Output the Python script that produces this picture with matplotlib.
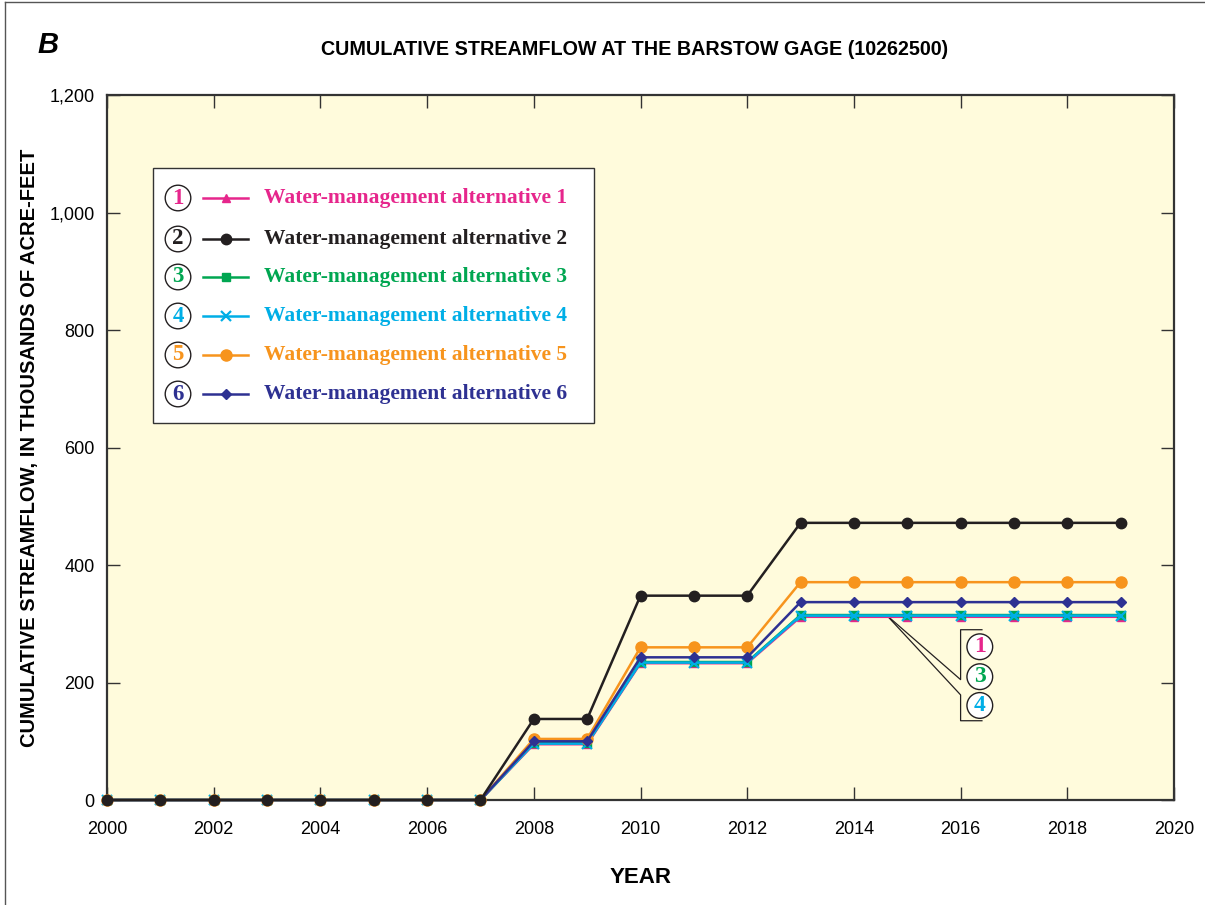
import numpy as np
import matplotlib
matplotlib.use("Agg")
import matplotlib.pyplot as plt
from matplotlib.lines import Line2D

# cumulative streamflow, thousands of acre-feet
years = list(range(2000, 2020))
alt1 = [0, 0, 0, 0, 0, 0, 0, 0, 95, 95, 233, 233, 233, 312, 312, 312, 312, 312, 312, 312]
alt2 = [0, 0, 0, 0, 0, 0, 0, 0, 138, 138, 348, 348, 348, 472, 472, 472, 472, 472, 472, 472]
alt3 = [0, 0, 0, 0, 0, 0, 0, 0, 97, 97, 235, 235, 235, 315, 315, 315, 315, 315, 315, 315]
alt4 = [0, 0, 0, 0, 0, 0, 0, 0, 96, 96, 234, 234, 234, 314, 314, 314, 314, 314, 314, 314]
alt5 = [0, 0, 0, 0, 0, 0, 0, 0, 104, 104, 260, 260, 260, 371, 371, 371, 371, 371, 371, 371]
alt6 = [0, 0, 0, 0, 0, 0, 0, 0, 100, 100, 243, 243, 243, 337, 337, 337, 337, 337, 337, 337]

labels = ["Water-management alternative %d" % i for i in range(1, 7)]
colors = ["#e6268c", "#231f20", "#00a651", "#00aee6", "#f7941d", "#2e3192"]
markers = ["^", "o", "s", "x", "o", "D"]
msizes = [6, 7.5, 6, 7, 8, 5.5]
series = [alt1, alt2, alt3, alt4, alt5, alt6]

serif = ["Liberation Serif", "DejaVu Serif"]
plt.rcParams["font.family"] = ["Liberation Sans", "DejaVu Sans"]

fig = plt.figure(figsize=(12.05, 9.05), dpi=100)
ax = fig.add_axes([107 / 1205, 1 - 800 / 905, (1174 - 107) / 1205, (800 - 95.4) / 905])
ax.set_facecolor("#fffbdc")

draw_order = [0, 2, 3, 4, 5, 1]
for i in draw_order:
    ax.plot(years, series[i], color=colors[i], marker=markers[i], ms=msizes[i],
            lw=1.8, mew=1.6 if markers[i] == "x" else 1, zorder=3 + draw_order.index(i),
            clip_on=False)

ax.set_xlim(2000, 2020)
ax.set_ylim(0, 1200)
ax.set_xticks(range(2000, 2021, 2))
ax.set_yticks(range(0, 1201, 200))
ax.set_yticklabels(["{:,}".format(v) for v in range(0, 1201, 200)])
ax.tick_params(direction="in", length=9.5, width=1, color="#333333",
               top=True, right=True, labelsize=13)
ax.tick_params(axis="x", pad=15)
ax.tick_params(axis="y", pad=9)
for s in ax.spines.values():
    s.set_linewidth(1.6)
    s.set_color("#333333")

ax.set_xlabel("YEAR", fontsize=16, fontweight="bold", labelpad=21)
ax.set_ylabel("CUMULATIVE STREAMFLOW, IN THOUSANDS OF ACRE-FEET", fontsize=14.5,
              fontweight="bold")
ax.yaxis.set_label_coords(-0.064, 0.5)
fig.text(0.527, 0.945, "CUMULATIVE STREAMFLOW AT THE BARSTOW GAGE (10262500)",
         ha="center", va="center", fontsize=14.2, fontweight="bold")
fig.text(0.031, 0.95, "B", ha="left", va="center", fontsize=21,
         fontweight="bold", style="italic")

# legend box drawn by hand, circled numbers in front of each entry
T = ax.transAxes
ax.add_patch(plt.Rectangle((0.0431, 0.535), 0.4133, 0.362, transform=T,
                           facecolor="white", edgecolor="#333333", lw=1.0, zorder=10))
row_px = [198, 239, 277, 316, 355, 394]
for k in range(6):
    yf = (800 - row_px[k]) / 704.6
    ax.text((178 - 107) / 1067, yf, str(k + 1), transform=T, ha="center", va="center",
            fontsize=16.5, fontweight="bold", family=serif, color=colors[k], zorder=12,
            bbox=dict(boxstyle="circle,pad=0.1", fc="white", ec="#231f20", lw=1.0))
    ax.add_line(Line2D([(203 - 107) / 1067, (248 - 107) / 1067], [yf, yf], transform=T,
                       color=colors[k], lw=1.8, zorder=11))
    ax.add_line(Line2D([(226 - 107) / 1067], [yf], transform=T, color=colors[k],
                       marker=markers[k], ms=msizes[k], mew=1.6 if markers[k] == "x" else 1,
                       zorder=12))
    ax.text((264 - 107) / 1067, yf, labels[k], transform=T, ha="left", va="center",
            fontsize=15.5, fontweight="bold", family=serif, color=colors[k], zorder=12)

# leader lines and bracket for alternatives 1, 3 and 4
lc = "#231f20"
ax.plot([2014.61, 2016.0, 2016.0, 2016.4], [315, 205, 290, 290], color=lc, lw=0.9,
        zorder=2, clip_on=False)
ax.plot([2014.61, 2016.0, 2016.0, 2016.4], [315, 179, 135, 135], color=lc, lw=0.9,
        zorder=2, clip_on=False)
for k, yv in zip([0, 2, 3], [261, 210, 161]):
    ax.text(2016.36, yv, str(k + 1), ha="center", va="center", fontsize=17,
            fontweight="bold", family=serif, color=colors[k], zorder=12,
            bbox=dict(boxstyle="circle,pad=0.1", fc="white", ec=lc, lw=1.0))

# thin frame round the figure (left and top only, as in the original)
fig.add_artist(Line2D([5 / 1205, 5 / 1205], [0, 1 - 2 / 905], transform=fig.transFigure,
                      color="#555555", lw=1.0))
fig.add_artist(Line2D([5 / 1205, 1], [1 - 2 / 905, 1 - 2 / 905], transform=fig.transFigure,
                      color="#555555", lw=1.0))

fig.savefig("out.png", dpi=100)
